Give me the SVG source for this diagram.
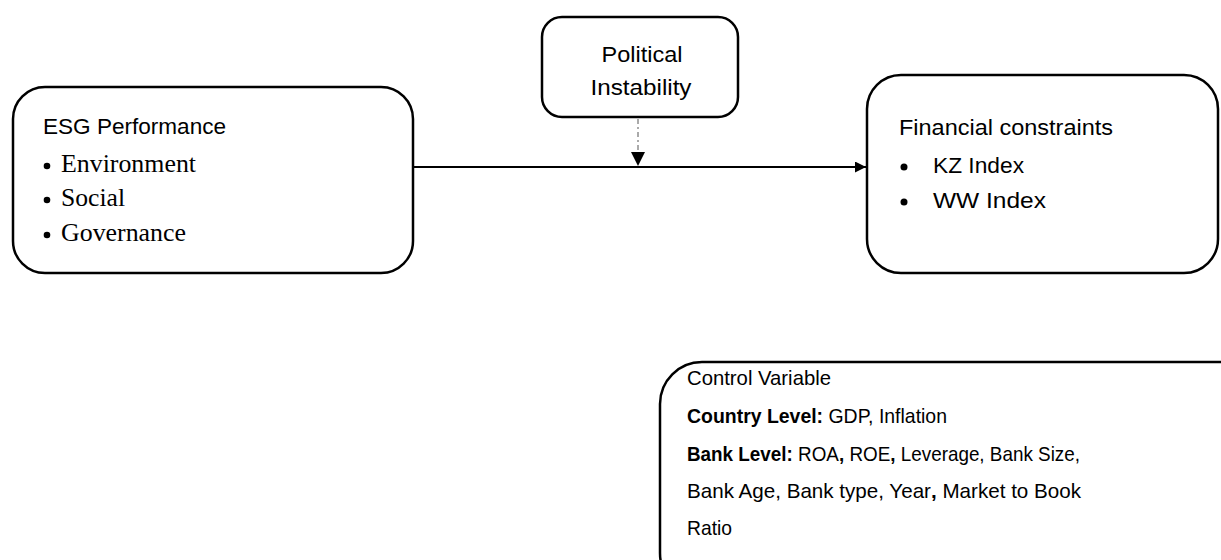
<svg xmlns="http://www.w3.org/2000/svg" width="1221" height="560" viewBox="0 0 1221 560">
<style>
.box{fill:#fff;stroke:#000;stroke-width:2.5}
.sans{font-family:"Liberation Sans",Arial,sans-serif;fill:#000}
.serif{font-family:"Liberation Serif","Times New Roman",serif;fill:#000}
.b{font-weight:bold}
</style>
<defs>
<marker id="arr" viewBox="0 0 10 10" refX="10" refY="5" markerWidth="14" markerHeight="11" markerUnits="userSpaceOnUse" orient="auto">
<path d="M0,0 L10,5 L0,10 Z" fill="#000"/>
</marker>
<marker id="arrD" viewBox="0 0 10 10" refX="10" refY="5" markerWidth="16" markerHeight="14" markerUnits="userSpaceOnUse" orient="auto">
<path d="M0,0 L10,5 L0,10 Z" fill="#000"/>
</marker>
</defs>
<rect width="1221" height="560" fill="#fff"/>
<g id="connectors">
<line x1="414" y1="167" x2="866" y2="167" stroke="#000" stroke-width="2" marker-end="url(#arr)"/>
<line x1="638" y1="119" x2="638" y2="166" stroke="#aaa" stroke-width="2" stroke-dasharray="5,3,2,3" marker-end="url(#arrD)"/>
</g>
<g id="esg">
<rect class="box" x="13" y="87" width="400" height="186" rx="32"/>
<text class="sans" x="43" y="134" font-size="22" textLength="183" lengthAdjust="spacingAndGlyphs">ESG Performance</text>
<circle cx="47" cy="166" r="3.3"/>
<text class="serif" x="61" y="172" font-size="25" textLength="135" lengthAdjust="spacingAndGlyphs">Environment</text>
<circle cx="47" cy="200" r="3.3"/>
<text class="serif" x="61" y="206" font-size="25" textLength="64" lengthAdjust="spacingAndGlyphs">Social</text>
<circle cx="47" cy="235" r="3.3"/>
<text class="serif" x="61" y="241" font-size="25" textLength="125" lengthAdjust="spacingAndGlyphs">Governance</text>
</g>
<g id="political">
<rect class="box" x="542" y="17" width="196" height="100" rx="20"/>
<text class="sans" x="642" y="62" font-size="22" text-anchor="middle" textLength="81" lengthAdjust="spacingAndGlyphs">Political</text>
<text class="sans" x="641" y="95" font-size="22" text-anchor="middle" textLength="101" lengthAdjust="spacingAndGlyphs">Instability</text>
</g>
<g id="financial">
<rect class="box" x="867" y="75" width="351" height="198" rx="34"/>
<text class="sans" x="899" y="135" font-size="22" textLength="214" lengthAdjust="spacingAndGlyphs">Financial constraints</text>
<circle cx="904" cy="167" r="3.5"/>
<text class="sans" x="933" y="173" font-size="22" textLength="91" lengthAdjust="spacingAndGlyphs">KZ Index</text>
<circle cx="904" cy="202" r="3.5"/>
<text class="sans" x="933" y="208" font-size="22" textLength="113" lengthAdjust="spacingAndGlyphs">WW Index</text>
</g>
<g id="control">
<rect class="box" x="660" y="362" width="600" height="233" rx="42"/>
<text class="sans" x="687" y="385" font-size="21" textLength="144" lengthAdjust="spacingAndGlyphs">Control Variable</text>
<text class="sans" x="687" y="423" font-size="21" textLength="260" lengthAdjust="spacingAndGlyphs"><tspan class="b">Country Level:</tspan> GDP, Inflation</text>
<text class="sans" x="687" y="461" font-size="21" textLength="393" lengthAdjust="spacingAndGlyphs"><tspan class="b">Bank Level:</tspan> ROA<tspan class="b">,</tspan> ROE<tspan class="b">,</tspan> Leverage, Bank Size,</text>
<text class="sans" x="687" y="498" font-size="21" textLength="394" lengthAdjust="spacingAndGlyphs">Bank Age, Bank type, Year<tspan class="b">,</tspan> Market to Book</text>
<text class="sans" x="687" y="535" font-size="21" textLength="45" lengthAdjust="spacingAndGlyphs">Ratio</text>
</g>
</svg>
